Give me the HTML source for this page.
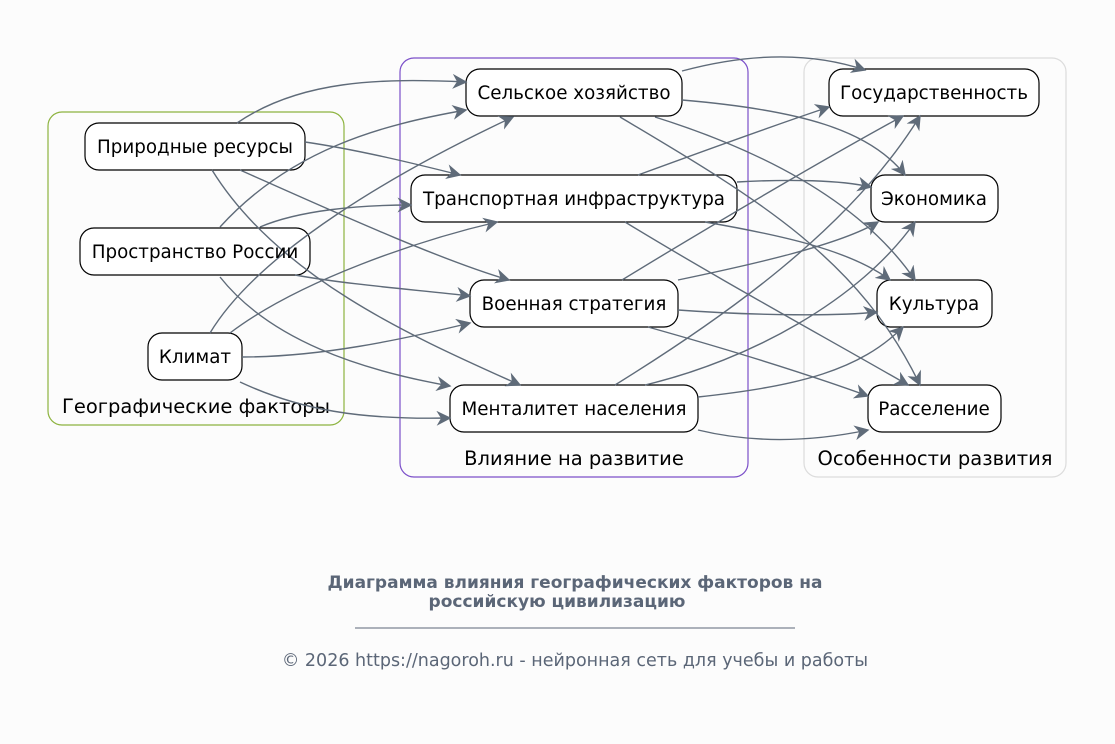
<!DOCTYPE html>
<html><head><meta charset="utf-8"><style>
body{margin:0;background:#fcfcfc;width:1115px;height:744px;overflow:hidden;font-family:"DejaVu Sans","Liberation Sans",sans-serif}
</style></head><body>
<svg width="1115" height="744" xmlns="http://www.w3.org/2000/svg" style="position:absolute;left:0;top:0">
<defs><marker id="a" viewBox="0 0 10 10" refX="9" refY="5" markerWidth="15" markerHeight="15" markerUnits="userSpaceOnUse" orient="auto"><path d="M0,0 L10,5 L0,10 L3,5 Z" fill="#5f6b79"/></marker></defs>
<rect x="48" y="112" width="296" height="313" rx="14" fill="none" stroke="#8db33f" stroke-width="1.2"/>
<rect x="400" y="58" width="348" height="419" rx="14" fill="none" stroke="#7b4fc9" stroke-width="1.2"/>
<rect x="804" y="58" width="262" height="419" rx="14" fill="none" stroke="#dcdcdc" stroke-width="1.2"/>
<g font-size="19.5" fill="#000" text-anchor="middle">
<text x="196" y="413">Географические факторы</text>
<text x="574" y="465">Влияние на развитие</text>
<text x="935" y="465">Особенности развития</text>
</g>
<g fill="#fff" stroke="#000" stroke-width="1.2">
<rect x="85" y="123" width="220" height="47" rx="14"/>
<rect x="80" y="228" width="230" height="47" rx="14"/>
<rect x="148" y="333" width="94" height="47" rx="14"/>
<rect x="466" y="69" width="216" height="47" rx="14"/>
<rect x="411" y="175" width="326" height="47" rx="14"/>
<rect x="470" y="280" width="208" height="47" rx="14"/>
<rect x="450" y="385" width="248" height="47" rx="14"/>
<rect x="829" y="69" width="210" height="47" rx="14"/>
<rect x="871" y="175" width="127" height="47" rx="14"/>
<rect x="877" y="280" width="115" height="47" rx="14"/>
<rect x="868" y="385" width="133" height="47" rx="14"/>
</g>
<g fill="none" stroke="#5f6b79" stroke-width="1.4" marker-end="url(#a)">
<path d="M237,123 C300,80 380,78 466,82"/>
<path d="M220,227 C290,150 380,125 466,110"/>
<path d="M210,333 C260,250 400,170 513,117"/>
<path d="M305,142 C360,150 420,165 460,175"/>
<path d="M260,227 C300,210 360,205 411,205"/>
<path d="M230,333 C300,280 420,240 497,222"/>
<path d="M240,170 C330,210 440,260 509,280"/>
<path d="M295,275 C350,285 420,290 470,296"/>
<path d="M242,357 C320,357 400,340 470,323"/>
<path d="M212,170 C280,280 420,340 520,385"/>
<path d="M220,277 C270,340 360,370 450,386"/>
<path d="M240,382 C300,410 360,420 450,418"/>
<path d="M682,71 C760,50 820,55 865,70"/>
<path d="M682,100 C800,110 870,130 905,175"/>
<path d="M655,117 C760,150 860,200 915,280"/>
<path d="M620,117 C760,200 860,260 920,385"/>
<path d="M638,175 C720,145 790,120 829,107"/>
<path d="M737,182 C790,179 840,180 871,187"/>
<path d="M705,222 C780,235 850,250 890,280"/>
<path d="M625,222 C720,280 830,340 908,385"/>
<path d="M622,280 C720,220 840,150 903,116"/>
<path d="M678,280 C750,265 840,245 878,222"/>
<path d="M678,310 C760,316 840,316 877,312"/>
<path d="M648,327 C730,350 810,375 868,396"/>
<path d="M615,385 C720,320 850,230 920,116"/>
<path d="M645,385 C750,360 860,300 915,222"/>
<path d="M698,397 C800,386 860,370 903,327"/>
<path d="M698,430 C760,445 820,440 868,430"/>
</g>
<g font-size="18.3" fill="#000" text-anchor="middle">
<text x="195" y="153">Природные ресурсы</text>
<text x="195" y="258">Пространство России</text>
<text x="195" y="363">Климат</text>
<text x="574" y="99">Сельское хозяйство</text>
<text x="574" y="205">Транспортная инфраструктура</text>
<text x="574" y="310">Военная стратегия</text>
<text x="574" y="415">Менталитет населения</text>
<text x="934" y="99">Государственность</text>
<text x="934" y="205">Экономика</text>
<text x="934" y="310">Культура</text>
<text x="934" y="415">Расселение</text>
</g>
<g fill="#5b6677" text-anchor="middle">
<text x="575" y="588" font-size="17" font-weight="bold">Диаграмма влияния географических факторов на</text>
<text x="557" y="607" font-size="17" font-weight="bold">российскую цивилизацию</text>
<line x1="355" y1="628" x2="795" y2="628" stroke="#5b6677" stroke-width="1"/>
<text x="575" y="666" font-size="17.5">© 2026 https://nagoroh.ru - нейронная сеть для учебы и работы</text>
</g>
</svg>
</body></html>
